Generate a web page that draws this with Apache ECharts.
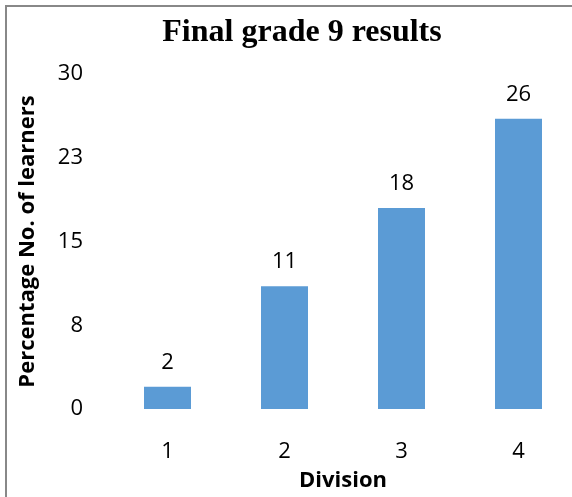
<!DOCTYPE html>
<html>
<head>
<meta charset="utf-8">
<script src="https://cdn.jsdelivr.net/npm/echarts@6/dist/echarts.min.js"></script>
<style>
  html, body { margin: 0; padding: 0; background: #fff; overflow: hidden; }
  #chart { width: 580px; height: 497px; }
</style>
</head>
<body>
<div id="chart"></div>
<script>
// Division categories and share of learners in each
const divisions = ['1', '2', '3', '4'];
const learnerPercent = [2, 11, 18, 26];
// Value-axis labels shown at each 7.5 step (rounded)
const yTickLabels = ['0', '8', '15', '23', '30'];

const chart = echarts.init(document.getElementById('chart'));
const sansFont = '"Open Sans", "Liberation Sans", sans-serif';

chart.setOption({
  animation: false,
  backgroundColor: '#ffffff',
  title: {
    text: 'Final grade 9 results',
    left: 297,
    textAlign: 'center',
    top: 12,
    textStyle: {
      fontFamily: '"Liberation Serif", "Times New Roman", serif',
      fontWeight: 'bold',
      fontSize: 32,
      color: '#000'
    }
  },
  graphic: [{
    type: 'polyline',
    shape: { points: [[6, 497], [6, 6], [580, 6]] },
    style: { stroke: '#888888', lineWidth: 2, fill: null }
  }],
  grid: { left: 109, top: 74, width: 468, height: 337, containLabel: false },
  xAxis: {
    type: 'category',
    data: divisions,
    name: 'Division',
    nameLocation: 'middle',
    nameGap: 61,
    nameTextStyle: { fontFamily: sansFont, fontWeight: 'bold', fontSize: 22, color: '#000' },
    axisLine: { show: false },
    axisTick: { show: false },
    axisLabel: { margin: 32, fontFamily: sansFont, fontSize: 22, color: '#000' }
  },
  yAxis: {
    type: 'value',
    min: 0,
    max: 30,
    interval: 7.5,
    name: 'Percentage No. of learners',
    nameLocation: 'middle',
    nameGap: 70,
    nameTextStyle: { fontFamily: sansFont, fontWeight: 'bold', fontSize: 22, color: '#000' },
    axisLine: { show: false },
    axisTick: { show: false },
    splitLine: { show: false },
    axisLabel: {
      margin: 26,
      fontFamily: sansFont,
      fontSize: 22,
      color: '#000',
      formatter: (v, i) => yTickLabels[i]
    }
  },
  series: [{
    type: 'bar',
    data: learnerPercent,
    barWidth: 47,
    itemStyle: { color: '#5B9BD5' },
    label: {
      show: true,
      position: 'top',
      distance: 13,
      fontFamily: sansFont,
      fontSize: 22,
      color: '#000'
    }
  }]
});
</script>
</body>
</html>
